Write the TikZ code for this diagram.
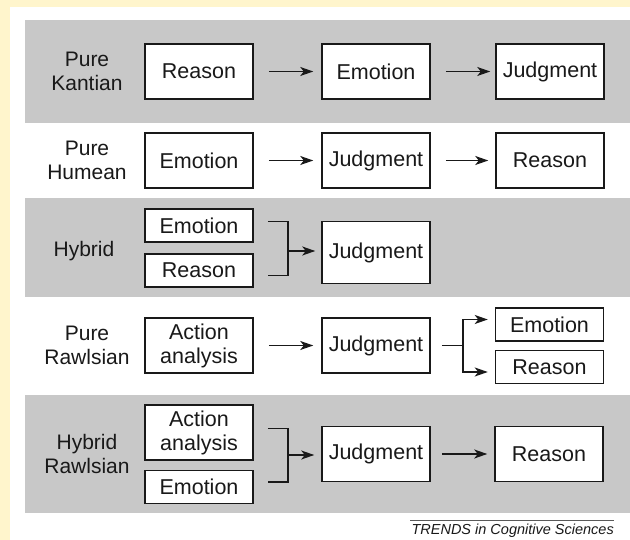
\documentclass[tikz,border=0pt]{standalone}
\usepackage{fontspec}
\setmainfont{Liberation Sans}
\usetikzlibrary{arrows.meta}
\definecolor{bgyellow}{RGB}{255,245,204}
\definecolor{bandgray}{RGB}{200,200,200}
\definecolor{ink}{RGB}{25,25,25}
\begin{document}
\begin{tikzpicture}[x=1pt,y=-1pt,
  bigbox/.style={draw=ink, line width=1.5pt, fill=white, minimum width=108pt, minimum height=55pt, inner sep=0pt, font=\fontsize{21.5}{24}\selectfont, text=ink, align=center},
  smallbox/.style={bigbox, minimum height=33pt},
  lab/.style={font=\fontsize{21}{23.5}\selectfont, text=ink, align=center, inner sep=0pt},
  arr/.style={draw=ink, line width=1.3pt, -{Stealth[length=13pt,width=9pt,inset=3.5pt]}},
  conn/.style={draw=ink, line width=1.3pt}]
\useasboundingbox (0,0) rectangle (630,540);
% background
\fill[bgyellow] (0,0) rectangle (630,540);
\fill[white] (10,7) rectangle (630,540);
\fill[bandgray] (25,20) rectangle (630,123);
\fill[bandgray] (25,198) rectangle (630,297);
\fill[bandgray] (25,395) rectangle (630,513);

% Row 1: Pure Kantian
\node[lab] (l1) at (87,71.5) {Pure\\Kantian};
\node[bigbox] (k1) at (199,71.5) {Reason};
\node[bigbox] (k2) at (376,71.5) {Emotion};
\node[bigbox] (k3) at (550,71.5) {Judgment};
\draw[arr] ([xshift=15pt]k1.east) -- ([xshift=-8pt]k2.west);
\draw[arr] ([xshift=15pt]k2.east) -- ([xshift=-5pt]k3.west);

% Row 2: Pure Humean
\node[lab] (l2) at (87,160.5) {Pure\\Humean};
\node[bigbox] (m1) at (199,160.5) {Emotion};
\node[bigbox] (m2) at (376,160.5) {Judgment};
\node[bigbox] (m3) at (550,160.5) {Reason};
\draw[arr] ([xshift=15pt]m1.east) -- ([xshift=-8pt]m2.west);
\draw[arr] ([xshift=15pt]m2.east) -- ([xshift=-7pt]m3.west);

% Row 3: Hybrid
\node[lab] (l3) at (84,251) {Hybrid};
\node[smallbox] (h1) at (199,225.5) {Emotion};
\node[smallbox] (h2) at (199,270.5) {Reason};
\node[bigbox, minimum height=62pt] (h3) at (376,252.5) {Judgment};
\coordinate (hj) at (288,251);
\draw[conn] ([xshift=14pt,yshift=4pt]h1.east) -| (hj) |- ([xshift=14pt,yshift=-5pt]h2.east);
\draw[arr, shorten >=6pt] (hj) -- (hj -| h3.west);

% Row 4: Pure Rawlsian
\node[lab] (l4) at (87,345.5) {Pure\\Rawlsian};
\node[bigbox] (p1) at (199,345.5) {Action\\analysis};
\node[bigbox] (p2) at (376,345.5) {Judgment};
\node[smallbox] (p3) at (549.5,324.5) {Emotion};
\node[smallbox] (p4) at (549.5,367) {Reason};
\draw[arr] ([xshift=15pt]p1.east) -- ([xshift=-8pt]p2.west);
\coordinate (pj) at (463,345.5);
\draw[conn] ([xshift=11pt]p2.east) -- (pj);
\draw[arr] (pj) |- ([xshift=-7pt,yshift=5pt]p3.west);
\draw[arr] (pj) |- ([xshift=-7pt,yshift=-5pt]p4.west);

% Row 5: Hybrid Rawlsian
\node[lab] (l5) at (87,454) {Hybrid\\Rawlsian};
\node[bigbox] (q1) at (199,432.5) {Action\\analysis};
\node[smallbox] (q2) at (199,487) {Emotion};
\node[bigbox] (q3) at (376,454) {Judgment};
\node[bigbox] (q4) at (549,454) {Reason};
\coordinate (qj) at (288,455);
\draw[conn] ([xshift=14pt,yshift=4pt]q1.east) -| (qj) |- ([xshift=14pt,yshift=5pt]q2.east);
\draw[arr, shorten >=7pt] (qj) -- (qj -| q3.west);
\draw[arr] ([xshift=11pt]q3.east) -- ([xshift=-7pt]q4.west);

% Footer
\coordinate (f1) at (410,520);
\coordinate (f2) at (614,520);
\draw[line width=0.8pt, draw=black!65] (f1) -- (f2);
\node[anchor=east, inner sep=0pt, text=ink, font=\fontsize{14.5}{16}\selectfont\itshape] (ft) at (614,531) {TRENDS in Cognitive Sciences};
\end{tikzpicture}
\end{document}
